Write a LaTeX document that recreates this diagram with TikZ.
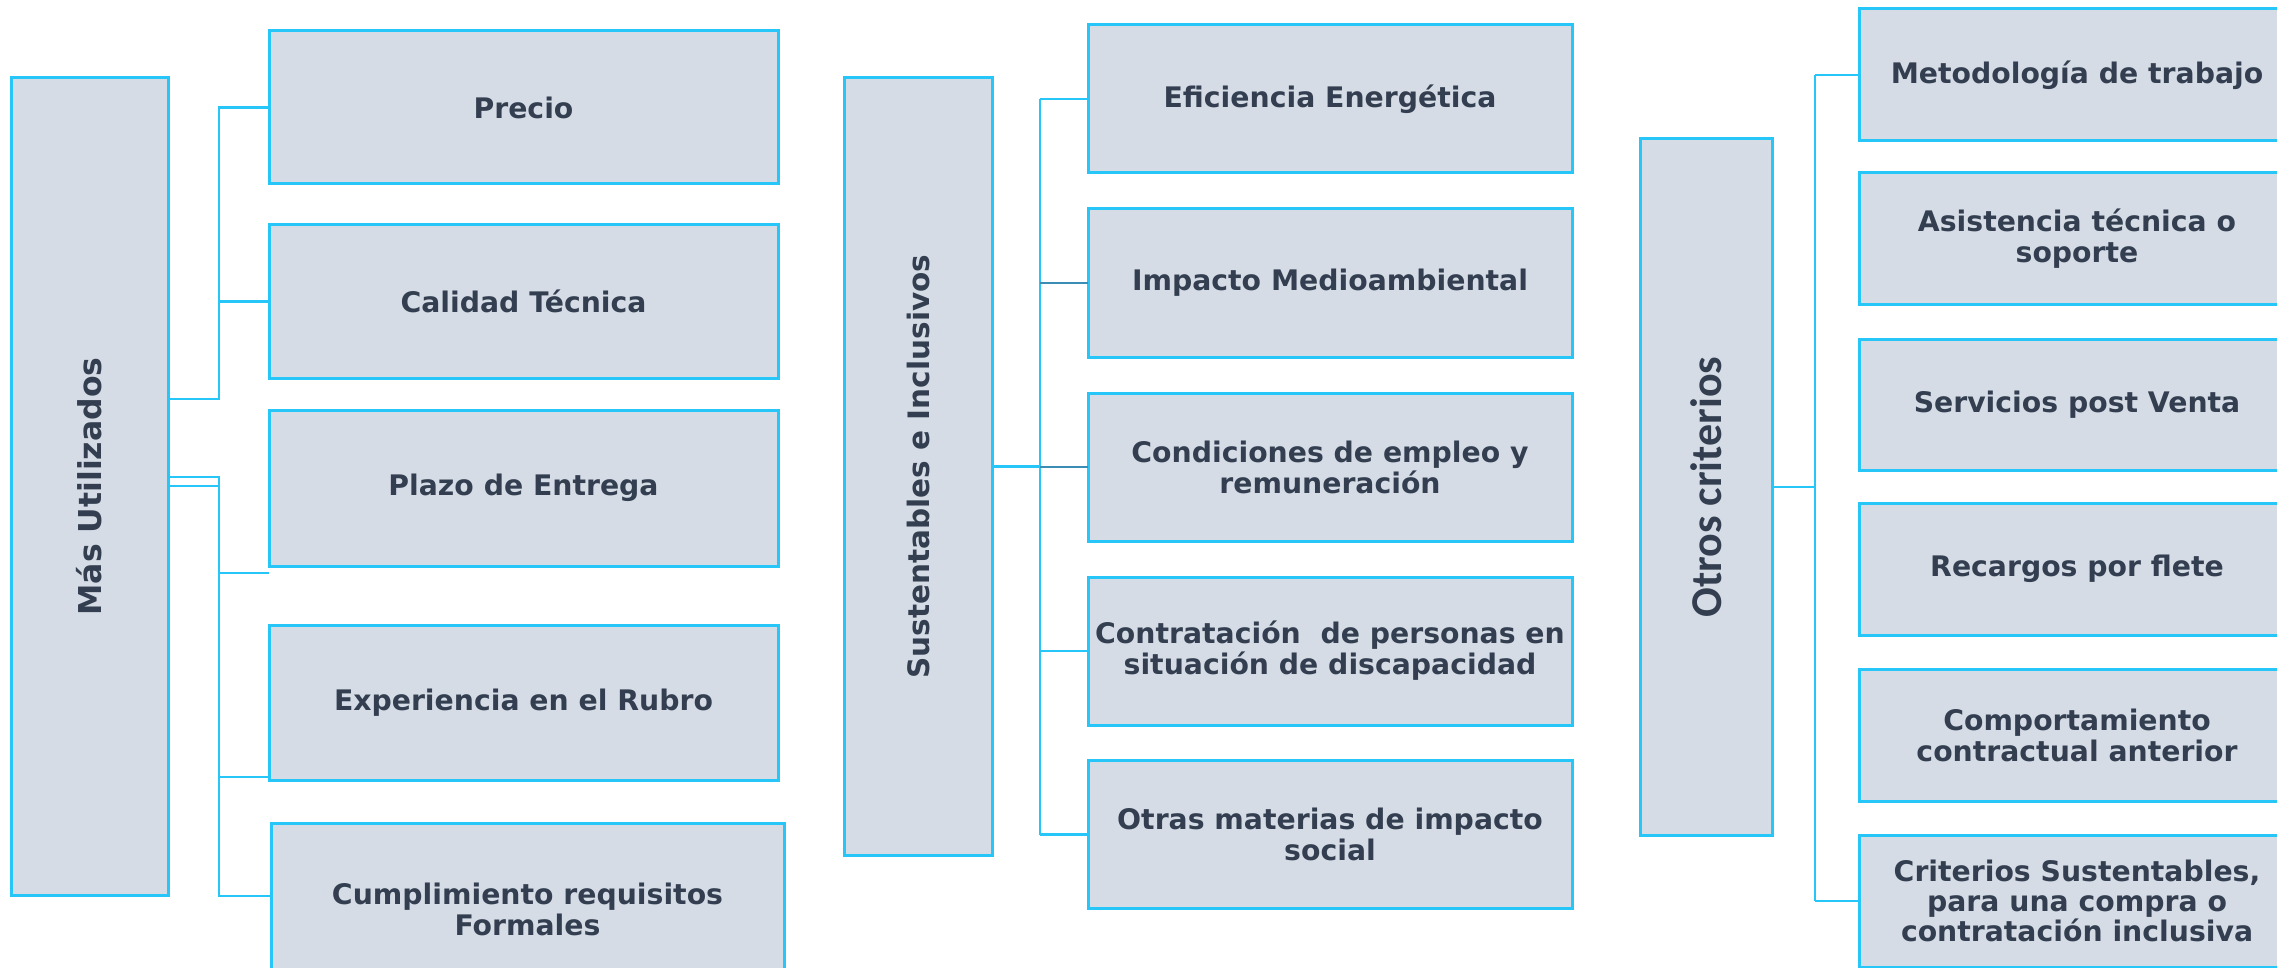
\documentclass[tikz,border=0pt]{standalone}
\usepackage{fontspec}
\setmainfont{DejaVu Sans}
\newfontfamily\otrosfont{Carlito}
\usepackage{tikz}

\definecolor{cajafondo}{HTML}{D5DCE6}
\definecolor{cajaborde}{HTML}{26C6F8}
\definecolor{texto}{HTML}{333F50}
\definecolor{ramaoscura}{HTML}{3A8DB5}

\begin{document}
\begin{tikzpicture}[x=1pt,y=-1pt,
caja/.style={draw=cajaborde, fill=cajafondo, line width=3pt, inner sep=0pt,
  outer sep=0pt, text=texto, align=center,
  font=\bfseries\fontsize{28.3}{31}\selectfont},
titulo/.style={rotate=90, text=texto, inner sep=0pt,
  font=\bfseries\fontsize{31.5}{34}\selectfont},
rama/.style={draw=cajaborde, line width=2.5pt},
ramaos/.style={draw=ramaoscura, line width=2.5pt}]
\useasboundingbox[fill=white] (0,0) rectangle (2277,968);
% draws main boxes
\node[caja, minimum width=157, minimum height=817] (mu) at (89.5,486.5) {};
\node[titulo] (mu-txt) at (mu.center) {Más Utilizados};
\node[caja, minimum width=148, minimum height=777] (si) at (918,466.5) {};
\node[titulo, font=\bfseries\fontsize{29.5}{33}\selectfont] (si-txt) at (si.center) {Sustentables e Inclusivos};
\node[caja, minimum width=132, minimum height=696] (oc) at (1706,487) {};
\node[titulo, font=\otrosfont\bfseries\fontsize{44}{48}\selectfont] (oc-txt) at (oc.center) {Otros criterios};
% draws boxes of first group
\node[caja, minimum width=509, minimum height=153] (precio) at (523.5,107.5) {Precio};
\node[caja, minimum width=509, minimum height=153] (calidad) at (523.5,301.5) {Calidad Técnica};
\node[caja, minimum width=509, minimum height=156] (plazo) at (523.5,488) {Plazo de Entrega};
\node[caja, minimum width=509, minimum height=155] (experiencia) at (523.5,702.5) {Experiencia en el Rubro};
\node[caja, minimum width=513, minimum height=172] (cumplimiento) at (527.5,909) {Cumplimiento requisitos\\Formales};
% draws boxes of second group
\node[caja, minimum width=484, minimum height=148] (efi) at (1330,99) {Eficiencia Energética};
\node[caja, minimum width=484, minimum height=148] (imp) at (1330,283) {Impacto Medioambiental};
\node[caja, minimum width=484, minimum height=148] (con) at (1330,467) {Condiciones de empleo y\\remuneración};
\node[caja, minimum width=484, minimum height=148] (cpd) at (1330,651) {Contratación~ de personas en\\situación de discapacidad};
\node[caja, minimum width=484, minimum height=148] (otr) at (1330,834.5) {Otras materias de impacto\\social};
% draws boxes of third group
\node[caja, minimum width=436, minimum height=132] (met) at (2077,75) {Metodología de trabajo};
\node[caja, minimum width=436, minimum height=131] (asi) at (2077,238.5) {Asistencia técnica o\\soporte};
\node[caja, minimum width=436, minimum height=131] (ser) at (2077,404.5) {Servicios post Venta};
\node[caja, minimum width=436, minimum height=132] (rec) at (2077,569) {Recargos por flete};
\node[caja, minimum width=436, minimum height=132] (com) at (2077,735) {Comportamiento\\contractual anterior};
\node[caja, minimum width=436, minimum height=132, font=\bfseries\fontsize{28.3}{30}\selectfont] (cri) at (2077,901) {Criterios Sustentables,\\para una compra o\\contratación inclusiva};
% draws edges of first group
\coordinate (ja) at (219,399);
\coordinate (jb) at (219,477);
\draw[rama] (mu.east |- ja) -- (ja) |- (precio.west);
\draw[rama] (ja) |- (calidad.west);
\draw[rama] (mu.east |- jb) -- (jb) -- (219,896) -- (cumplimiento.west |- 0,896);
\draw[rama] (mu.east |- 0,486) -- (219,486);
\draw[rama] (219,573) -- (plazo.west |- 0,573);
\draw[rama] (219,777) -- (experiencia.west |- 0,777);
% draws edges of second group
\coordinate (jm) at (1040,466.5);
\draw[rama] (si.east) -- (jm);
\draw[rama] (efi.west -| jm) -- (otr.west -| jm);
\draw[rama] (efi.west -| jm) -- (efi.west);
\draw[ramaos] (imp.west -| jm) -- (imp.west);
\draw[ramaos] (con.west -| jm) -- (con.west);
\draw[rama] (cpd.west -| jm) -- (cpd.west);
\draw[rama] (otr.west -| jm) -- (otr.west);
% draws edges of third group
\coordinate (jr) at (1815,487);
\draw[rama] (oc.east) -- (jr);
\draw[rama] (met.west -| jr) -- (cri.west -| jr);
\draw[rama] (met.west -| jr) -- (met.west);
\draw[rama] (cri.west -| jr) -- (cri.west);
\end{tikzpicture}
\end{document}
